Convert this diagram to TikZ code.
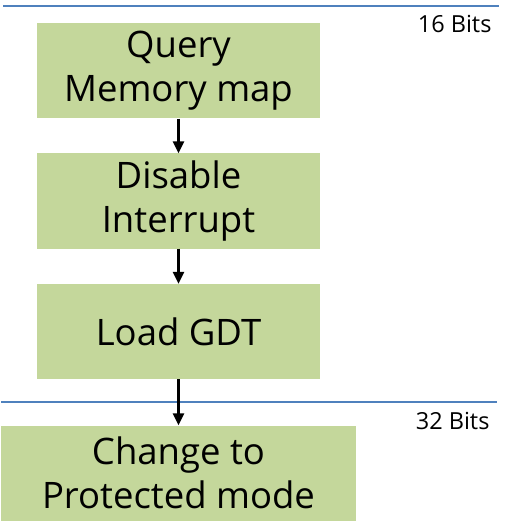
\documentclass[tikz,border=0pt]{standalone}
\usepackage{fontspec}
\setmainfont{Open Sans}
\usetikzlibrary{arrows.meta}
\definecolor{boxgreen}{HTML}{C4D79B}
\definecolor{lineblue}{HTML}{4F81BD}
\begin{document}
\begin{tikzpicture}[x=1pt,y=-1pt,
  stepbox/.style={fill=boxgreen, draw=none, inner sep=0pt, align=center,
    font=\fontsize{36.5}{44}\selectfont},
  sep/.style={draw=lineblue, line width=2pt},
  arr/.style={-{Triangle[length=12pt,width=11pt]}, line width=2.5pt},
  lbl/.style={font=\fontsize{23.5}{28}\selectfont, anchor=east}]
\useasboundingbox (0,0) rectangle (512,521);
\node[stepbox, minimum width=283pt, minimum height=95pt] (q) at (178.5,71) {Query\\Memory map};
\node[stepbox, minimum width=283pt, minimum height=95pt] (d) at (178.5,201) {Disable\\Interrupt};
\node[stepbox, minimum width=283pt, minimum height=95pt] (g) at (178.5,331.5) {Load GDT};
\node[stepbox, minimum width=355pt, minimum height=95pt] (c) at (178.5,473) {Change to\\Protected mode};
\coordinate (l1a) at (3,6); \coordinate (l1b) at (499,6);
\coordinate (l2a) at (1,402); \coordinate (l2b) at (497,402);
\draw[sep] (l1a) -- (l1b);
\draw[sep] (l2a) -- (l2b);
\node[lbl] (b16) at (495,24) {16 Bits};
\node[lbl] (b32) at (493,421) {32 Bits};
\draw[arr] (q.south) -- (d.north);
\draw[arr] (d.south) -- (g.north);
\draw[arr] (g.south) -- (c.north);
\end{tikzpicture}
\end{document}
